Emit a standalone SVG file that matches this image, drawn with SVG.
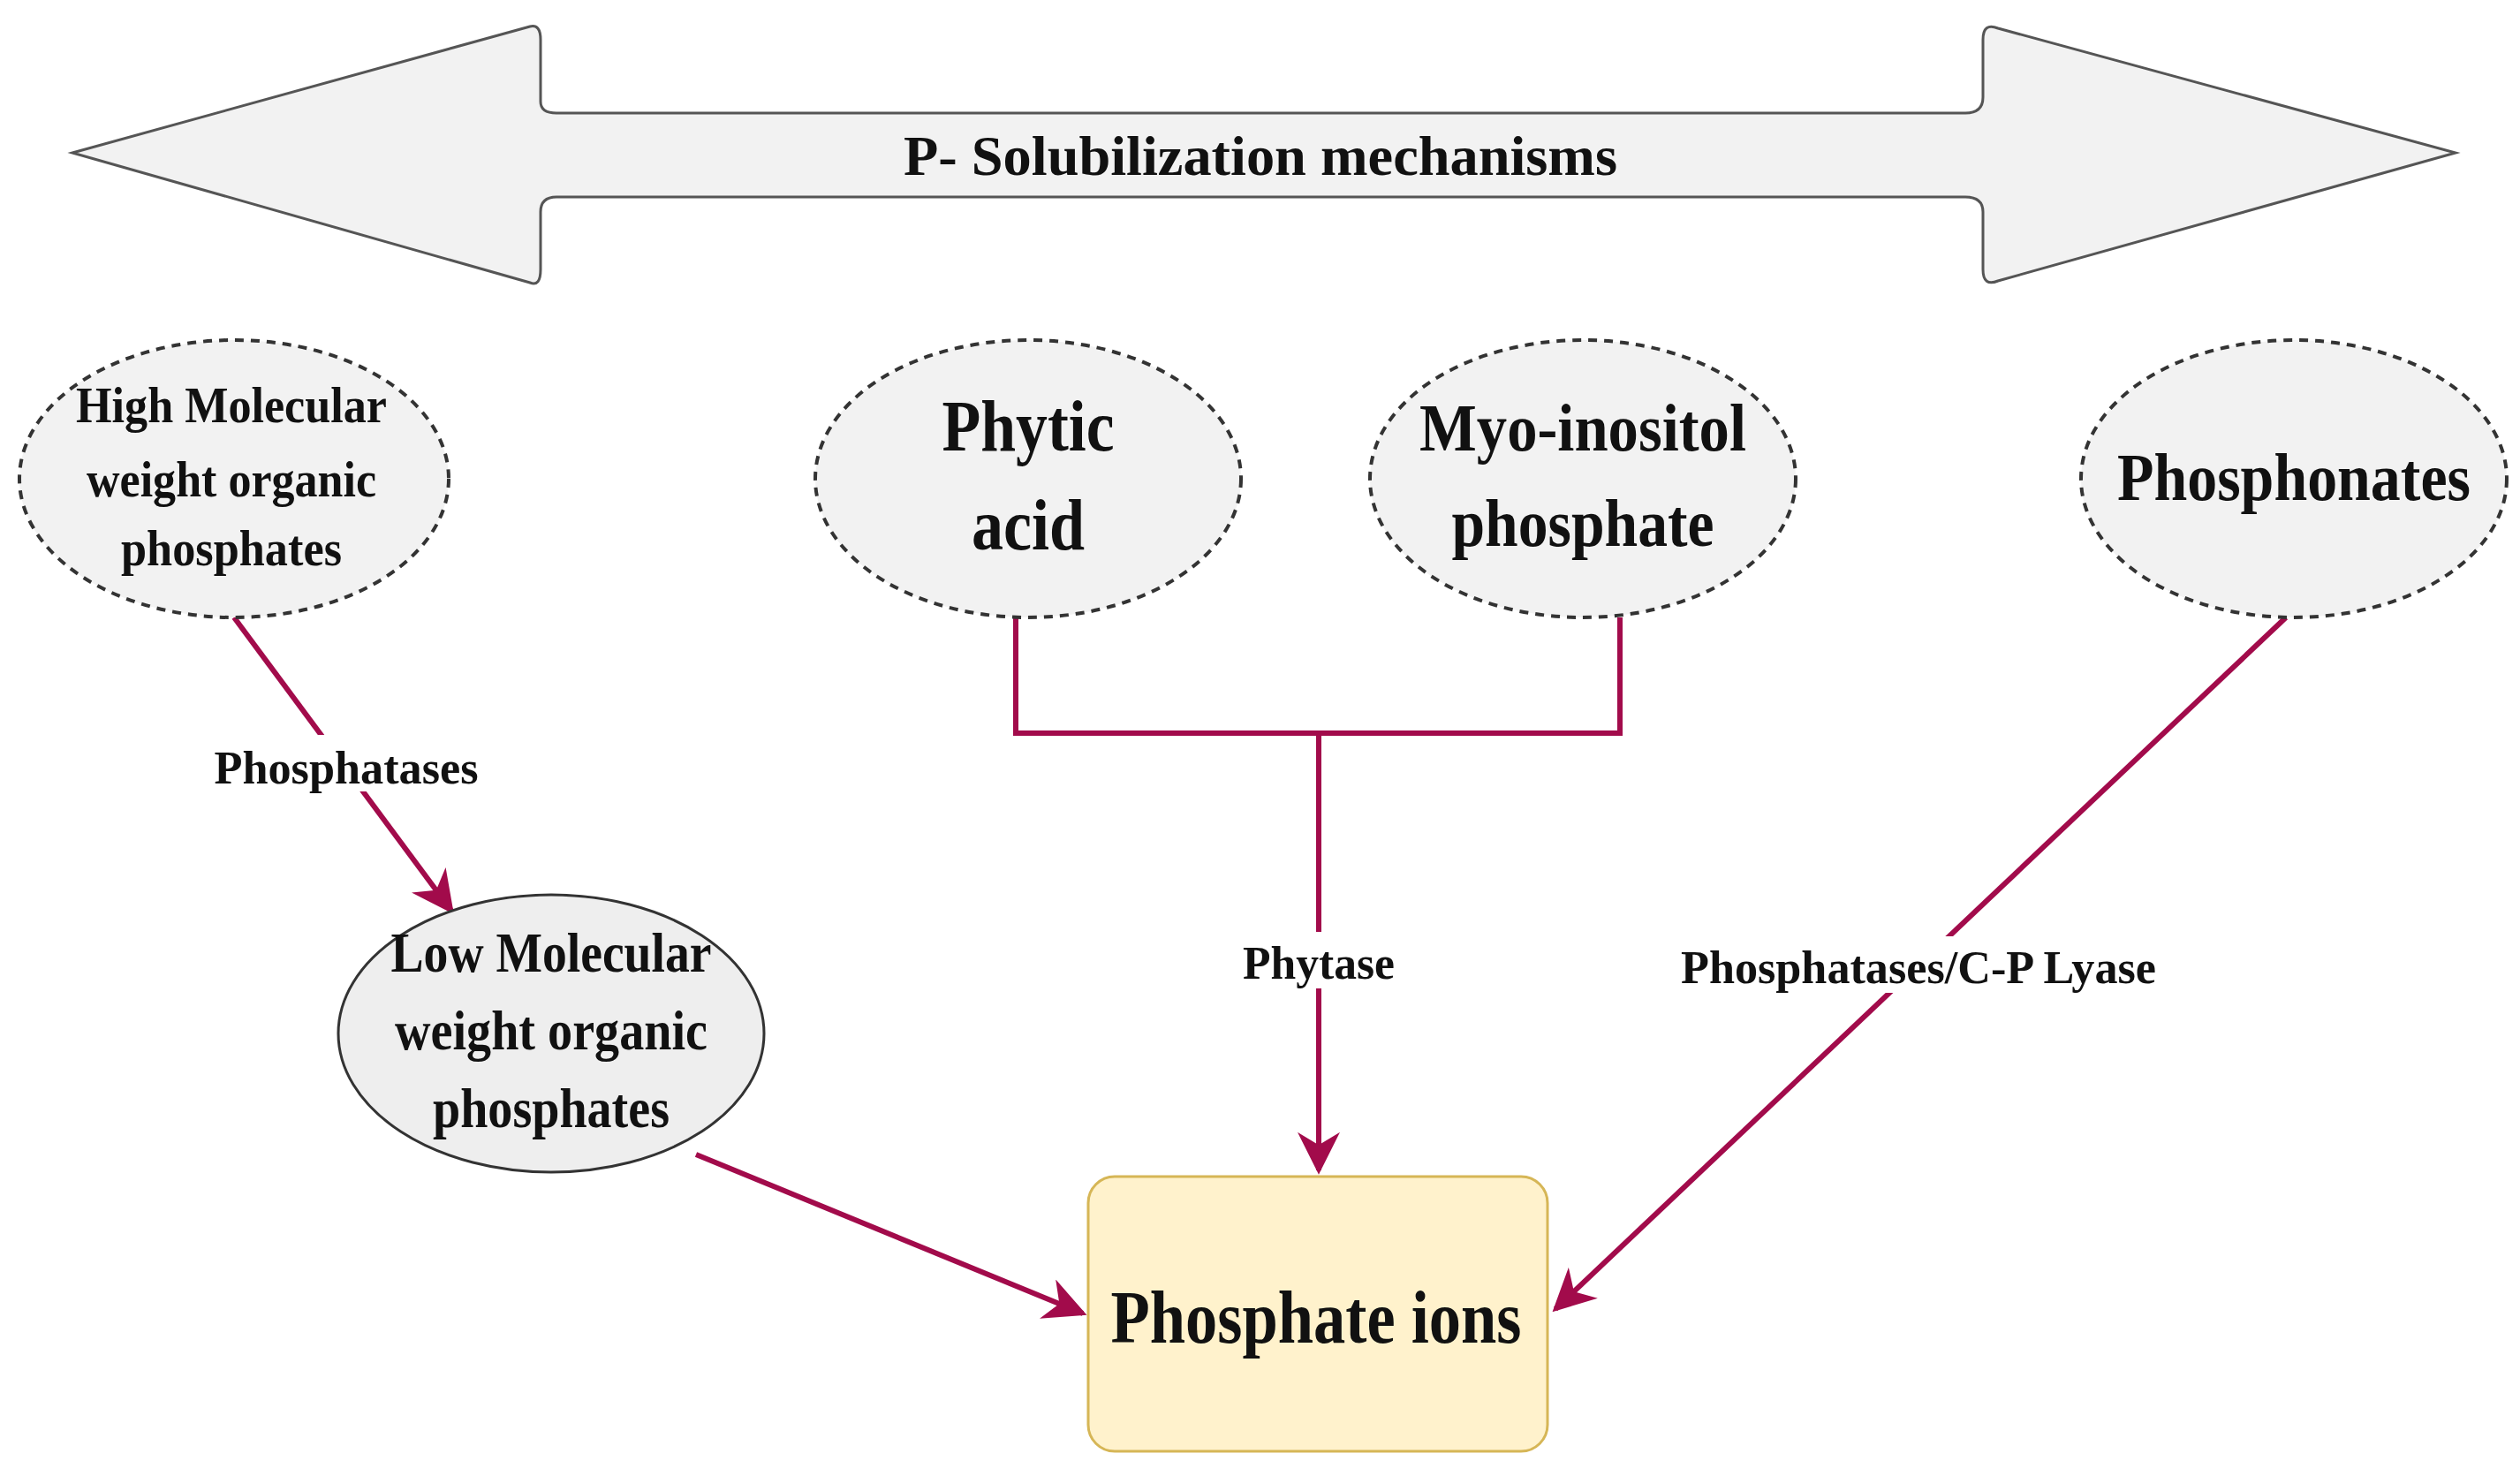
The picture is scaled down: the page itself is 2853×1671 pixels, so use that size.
<svg xmlns="http://www.w3.org/2000/svg" width="2853" height="1671" viewBox="0 0 2853 1671">
<defs>
<style>
.t{font-family:"Liberation Serif","Times New Roman",serif;fill:#111;text-anchor:middle;font-weight:bold}
.e{fill:#f2f2f2;stroke:#333;stroke-width:4;stroke-dasharray:10 8}
.c{fill:none;stroke:#a20b4b;stroke-width:6}
</style>
<marker id="ah" viewBox="0 0 10 10" refX="9" refY="5" markerWidth="8" markerHeight="8" markerUnits="strokeWidth" orient="auto"><path d="M0,0 L10,5 L0,10 L3,5 z" fill="#a20b4b"/></marker>
</defs>
<rect width="2853" height="1671" fill="#fff"/>
<g id="banner">
<path d="M82,173 L600,30 Q612,27 612,45 L612,115 Q612,128 630,128 L2225,128 Q2245,128 2245,110 L2245,45 Q2245,25 2262,32 L2780,173 L2262,318 Q2245,325 2245,305 L2245,240 Q2245,223 2225,223 L630,223 Q612,223 612,240 L612,305 Q612,325 600,320 Z" fill="#f2f2f2" stroke="#555" stroke-width="3"/>
<text class="t" x="1427" y="198" font-size="64" textLength="808" lengthAdjust="spacingAndGlyphs">P- Solubilization mechanisms</text>
</g>
<g id="connectors">
<line class="c" x1="265" y1="699" x2="511" y2="1031" marker-end="url(#ah)"/>
<path class="c" d="M1150,699 V830 H1834 V699"/>
<line class="c" x1="1493" y1="830" x2="1493" y2="1325" marker-end="url(#ah)"/>
<line class="c" x1="788" y1="1307" x2="1226" y2="1487" stroke-width="8" marker-end="url(#ah)"/>
<line class="c" x1="2588" y1="699" x2="1761" y2="1482" marker-end="url(#ah)"/>
<rect x="235" y="832" width="314" height="64" fill="#fff"/>
<text class="t" x="392" y="887" font-size="52" textLength="299" lengthAdjust="spacingAndGlyphs">Phosphatases</text>
<rect x="1400" y="1055" width="186" height="64" fill="#fff"/>
<text class="t" x="1493" y="1108" font-size="52" textLength="172" lengthAdjust="spacingAndGlyphs">Phytase</text>
<rect x="1898" y="1060" width="550" height="64" fill="#fff"/>
<text class="t" x="2172" y="1113" font-size="52" textLength="538" lengthAdjust="spacingAndGlyphs">Phosphatases/C-P Lyase</text>
</g>
<g id="hmw">
<ellipse class="e" cx="265" cy="542" rx="243" ry="157"/>
<text class="t" x="262" y="478" font-size="56" textLength="352" lengthAdjust="spacingAndGlyphs">High Molecular</text>
<text class="t" x="262" y="562" font-size="56" textLength="328" lengthAdjust="spacingAndGlyphs">weight organic</text>
<text class="t" x="262" y="640" font-size="56" textLength="250" lengthAdjust="spacingAndGlyphs">phosphates</text>
</g>
<g id="phytic">
<ellipse class="e" cx="1164" cy="542" rx="241" ry="157"/>
<text class="t" x="1164" y="510" font-size="82" textLength="195" lengthAdjust="spacingAndGlyphs">Phytic</text>
<text class="t" x="1164" y="622" font-size="82" textLength="128" lengthAdjust="spacingAndGlyphs">acid</text>
</g>
<g id="myo">
<ellipse class="e" cx="1792" cy="542" rx="241" ry="157"/>
<text class="t" x="1792" y="510" font-size="76" textLength="370" lengthAdjust="spacingAndGlyphs">Myo-inositol</text>
<text class="t" x="1792" y="618" font-size="76" textLength="297" lengthAdjust="spacingAndGlyphs">phosphate</text>
</g>
<g id="phosphonates">
<ellipse class="e" cx="2597" cy="542" rx="241" ry="157"/>
<text class="t" x="2597" y="566" font-size="76" textLength="400" lengthAdjust="spacingAndGlyphs">Phosphonates</text>
</g>
<g id="lmw">
<ellipse cx="624" cy="1170" rx="241" ry="157" fill="#eeeeee" stroke="#333" stroke-width="3"/>
<text class="t" x="624" y="1100" font-size="64" textLength="363" lengthAdjust="spacingAndGlyphs">Low Molecular</text>
<text class="t" x="624" y="1188" font-size="64" textLength="354" lengthAdjust="spacingAndGlyphs">weight organic</text>
<text class="t" x="624" y="1276" font-size="64" textLength="268" lengthAdjust="spacingAndGlyphs">phosphates</text>
</g>
<g id="ions">
<rect x="1232" y="1332" width="520" height="311" rx="30" fill="#fff2cc" stroke="#d6b656" stroke-width="3"/>
<text class="t" x="1490" y="1520" font-size="84" textLength="465" lengthAdjust="spacingAndGlyphs">Phosphate ions</text>
</g>
</svg>
